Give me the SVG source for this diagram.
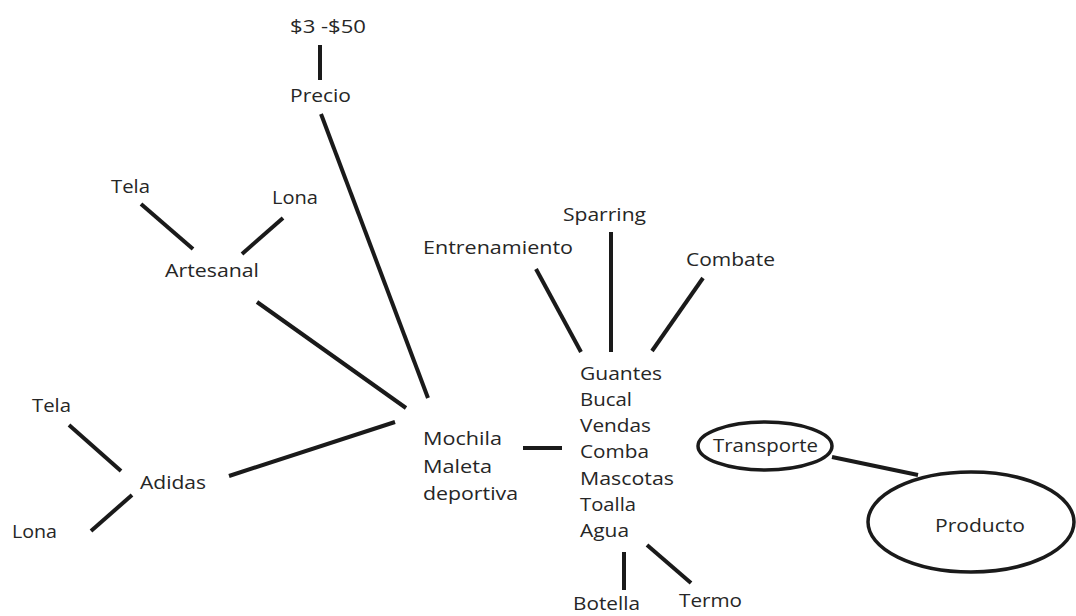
<svg xmlns="http://www.w3.org/2000/svg" width="1076" height="616" viewBox="0 0 1076 616">
<style>
text{font-family:"Open Sans","Liberation Sans",sans-serif;font-size:18px;fill:#262626}
.c line{stroke:#1a1a1a;stroke-width:4;stroke-linecap:butt}
ellipse{fill:none;stroke:#1a1a1a;stroke-width:3.5}
</style>
<rect width="1076" height="616" fill="#fff"/>
<g class="c" id="connectors">
<line x1="320" y1="45" x2="320" y2="80"/>
<line x1="321" y1="114" x2="428" y2="398"/>
<line x1="141" y1="204" x2="193" y2="249"/>
<line x1="283" y1="218" x2="242" y2="254"/>
<line x1="257" y1="302" x2="406" y2="408"/>
<line x1="69" y1="425" x2="121" y2="471"/>
<line x1="91" y1="531" x2="132" y2="495"/>
<line x1="229" y1="476" x2="395" y2="422"/>
<line x1="523" y1="448" x2="562" y2="448"/>
<line x1="536" y1="269" x2="581" y2="352"/>
<line x1="611" y1="232" x2="611" y2="352"/>
<line x1="703" y1="278" x2="652" y2="351"/>
<line x1="624" y1="552" x2="624" y2="590"/>
<line x1="647" y1="545" x2="691" y2="583"/>
<line x1="832" y1="457" x2="918" y2="475"/>
</g>
<g id="n-rango"><text x="290" y="33" textLength="76" lengthAdjust="spacingAndGlyphs">$3 -$50</text></g>
<g id="n-precio"><text x="290" y="102" textLength="61" lengthAdjust="spacingAndGlyphs">Precio</text></g>
<g id="n-tela1"><text x="111" y="193" textLength="39" lengthAdjust="spacingAndGlyphs">Tela</text></g>
<g id="n-lona1"><text x="272" y="204" textLength="46" lengthAdjust="spacingAndGlyphs">Lona</text></g>
<g id="n-artesanal"><text x="165" y="277" textLength="94" lengthAdjust="spacingAndGlyphs">Artesanal</text></g>
<g id="n-tela2"><text x="32" y="412" textLength="39" lengthAdjust="spacingAndGlyphs">Tela</text></g>
<g id="n-adidas"><text x="140" y="489" textLength="66" lengthAdjust="spacingAndGlyphs">Adidas</text></g>
<g id="n-lona2"><text x="12" y="538" textLength="45" lengthAdjust="spacingAndGlyphs">Lona</text></g>
<g id="n-mochila">
<text x="423" y="445" textLength="79" lengthAdjust="spacingAndGlyphs">Mochila</text>
<text x="423" y="473" textLength="69" lengthAdjust="spacingAndGlyphs">Maleta</text>
<text x="423" y="500" textLength="95" lengthAdjust="spacingAndGlyphs">deportiva</text>
</g>
<g id="n-entrenamiento"><text x="423" y="254" textLength="150" lengthAdjust="spacingAndGlyphs">Entrenamiento</text></g>
<g id="n-sparring"><text x="563" y="221" textLength="83" lengthAdjust="spacingAndGlyphs">Sparring</text></g>
<g id="n-combate"><text x="686" y="266" textLength="89" lengthAdjust="spacingAndGlyphs">Combate</text></g>
<g id="n-lista">
<text x="580" y="380" textLength="82" lengthAdjust="spacingAndGlyphs">Guantes</text>
<text x="580" y="406" textLength="52" lengthAdjust="spacingAndGlyphs">Bucal</text>
<text x="580" y="432" textLength="71" lengthAdjust="spacingAndGlyphs">Vendas</text>
<text x="580" y="458" textLength="69" lengthAdjust="spacingAndGlyphs">Comba</text>
<text x="580" y="485" textLength="94" lengthAdjust="spacingAndGlyphs">Mascotas</text>
<text x="580" y="511" textLength="56" lengthAdjust="spacingAndGlyphs">Toalla</text>
<text x="580" y="537" textLength="49" lengthAdjust="spacingAndGlyphs">Agua</text>
</g>
<g id="n-botella"><text x="573" y="610" textLength="67" lengthAdjust="spacingAndGlyphs">Botella</text></g>
<g id="n-termo"><text x="679" y="607" textLength="63" lengthAdjust="spacingAndGlyphs">Termo</text></g>
<g id="n-transporte">
<ellipse cx="765" cy="446" rx="67" ry="24"/>
<text x="713" y="452" textLength="105" lengthAdjust="spacingAndGlyphs">Transporte</text>
</g>
<g id="n-producto">
<ellipse cx="971" cy="522" rx="103" ry="50"/>
<text x="935" y="532" textLength="90" lengthAdjust="spacingAndGlyphs">Producto</text>
</g>
</svg>
